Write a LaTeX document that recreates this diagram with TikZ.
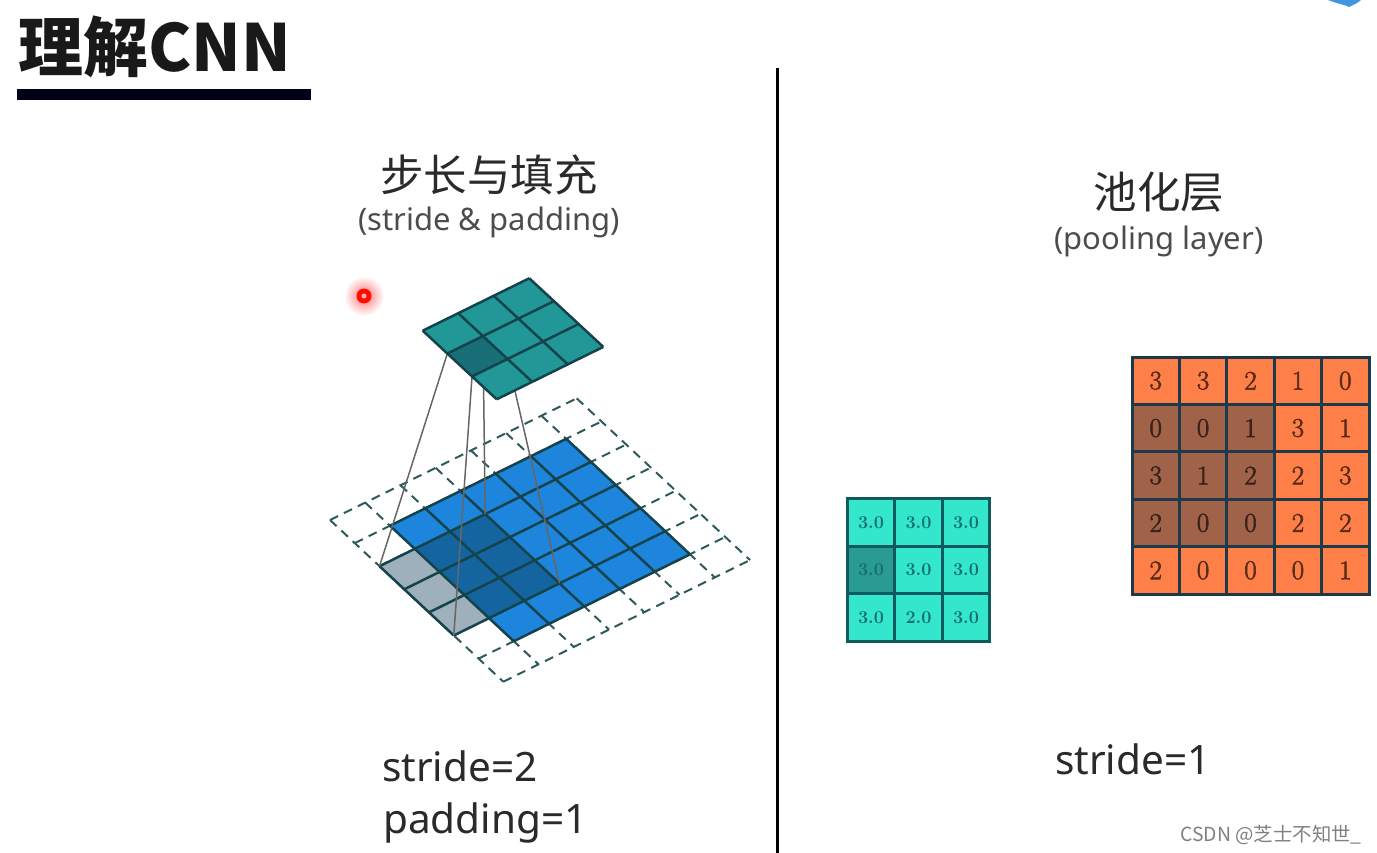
\documentclass[tikz,border=0pt]{standalone}
\usepackage{fontspec}
\newfontfamily\cjk{Noto Sans CJK SC}
\newfontfamily\lat{Noto Sans}
\newfontfamily\digit{Latin Modern Roman}[FakeBold=2.2]
\definecolor{gridline}{HTML}{14434C}
\definecolor{dashline}{HTML}{2F5A5C}
\definecolor{bluecell}{HTML}{1E85DC}
\definecolor{bluedark}{HTML}{14659F}
\definecolor{graycell}{HTML}{9FB0BD}
\definecolor{tealcell}{HTML}{219797}
\definecolor{tealdark}{HTML}{186F78}
\definecolor{orlt}{HTML}{FF7F48}
\definecolor{ordk}{HTML}{A0634A}
\definecolor{cylt}{HTML}{33E6CC}
\definecolor{cydk}{HTML}{2A9B92}
\definecolor{oline}{HTML}{1C3A4A}
\definecolor{cline}{HTML}{0F5A5C}
\definecolor{inktext}{HTML}{2A2A2A}
\tikzset{
  dashgrid/.style={draw=dashline,line width=2pt,dash pattern=on 9pt off 6.5pt},
  cellgrid/.style={draw=gridline,line width=2.5pt,line join=round},
  wire/.style={draw=black!60,line width=1.5pt},
  heading/.style={inner sep=0pt,font=\cjk\fontsize{43.5}{43.5}\selectfont,text=inktext},
  subheading/.style={inner sep=0pt,font=\lat\fontsize{31}{31}\selectfont,text=black!70},
  param/.style={inner sep=0pt,anchor=base west,font=\lat\fontsize{40.5}{40.5}\selectfont,text=inktext},
  ocell/.style={draw=oline,line width=3pt,minimum size=47.4pt,inner sep=0pt,font=\digit\fontsize{27}{27}\selectfont},
  ccell/.style={draw=cline,line width=3pt,minimum size=47.5pt,inner sep=0pt,font=\bfseries\fontsize{18}{18}\selectfont},
}
\begin{document}
\begin{tikzpicture}[x=1pt,y=-1pt]
\useasboundingbox (0,0) rectangle (1377,853);
% title
\node[inner sep=0pt,anchor=base west,font=\cjk\bfseries\fontsize{65}{65}\selectfont,text=black!90] (title) at (18,72) {理解CNN};
\fill[fill=black!90!blue] (17,89) rectangle (311,100);
\draw[line width=3pt,black] (777,68) -- (777,853);
% top-right fragment
\fill[bluecell!85] (1328,0) .. controls (1338,4) and (1346,5) .. (1349,7) .. controls (1353,5) and (1358,3) .. (1361,0) -- cycle;
% headings
\node[heading] (h1) at (489,175) {步长与填充};
\node[subheading] (s1) at (489,222) {(stride \& padding)};
\node[heading] (h2) at (1159,192) {池化层};
\node[subheading] (s2) at (1159,241) {(pooling layer)};
\node[param] (p1) at (382,781) {stride=2};
\node[param] (p2) at (383,833) {padding=1};
\node[param] (p3) at (1055,774) {stride=1};
\node[inner sep=0pt,anchor=base east,font=\cjk\fontsize{19.4}{19.4}\selectfont,text=black!50] (wm) at (1362,841) {CSDN @芝士不知世\_};
% pointer
\shade[inner color=red!55,outer color=white] (364,296) circle (20);
\fill[red!90!orange] (364,296) circle (7.5);
\fill[white!70!red] (364,296) circle (2.5);
% coordinates
\foreach \u in {0,...,7}\foreach \v in {0,...,7}
  \coordinate (d-\u-\v) at ({330+35.24*\u+24.76*\v},{520-17.38*\u+23.1*\v});
\foreach \u in {0,...,3}\foreach \v in {0,...,3}
  \coordinate (t-\u-\v) at ({422.7+35.53*\u+24.67*\v},{330.7-17.47*\u+22.87*\v});
% dashed grid
\foreach \k in {0,...,7}{
  \draw[dashgrid] (d-\k-0) -- (d-\k-7);
  \draw[dashgrid] (d-0-\k) -- (d-7-\k);
}
% gray cells
\fill[graycell] (d-0-2) -- (d-1-2) -- (d-1-5) -- (d-0-5) -- cycle;
\foreach \v in {2,...,5} \draw[cellgrid] (d-0-\v) -- (d-1-\v);
\draw[cellgrid] (d-0-2) -- (d-0-5);
% blue plane
\fill[bluecell] (d-1-1) -- (d-6-1) -- (d-6-6) -- (d-1-6) -- cycle;
\fill[bluedark] (d-1-2) -- (d-3-2) -- (d-3-5) -- (d-1-5) -- cycle;
\foreach \k in {1,...,6}{
  \draw[cellgrid] (d-\k-1) -- (d-\k-6);
  \draw[cellgrid] (d-1-\k) -- (d-6-\k);
}
% connectors
\draw[wire] (t-0-1) -- (d-0-2);
\draw[wire] (t-0-2) -- (d-0-5);
\draw[wire] (t-1-1) -- (d-3-2);
\draw[wire] (t-1-2) -- (d-3-5);
% teal plane
\fill[tealcell] (t-0-0) -- (t-3-0) -- (t-3-3) -- (t-0-3) -- cycle;
\fill[tealdark] (t-0-1) -- (t-1-1) -- (t-1-2) -- (t-0-2) -- cycle;
\foreach \k in {0,...,3}{
  \draw[cellgrid] (t-\k-0) -- (t-\k-3);
  \draw[cellgrid] (t-0-\k) -- (t-3-\k);
}
% orange table
\foreach \row [count=\ry from 0] in {{3,3,2,1,0},{0,0,1,3,1},{3,1,2,2,3},{2,0,0,2,2},{2,0,0,0,1}}{
  \foreach \val [count=\cx from 0] in \row {
    \pgfmathtruncatemacro\dk{(\ry>=1)&&(\ry<=3)&&(\cx<=2)}
    \ifnum\dk=1 \def\cc{ordk}\def\tc{black!65!ordk}\else \def\cc{orlt}\def\tc{black!65!orlt}\fi
    \node[ocell,fill=\cc,text=\tc] (o-\ry-\cx) at ({1155.7+47.4*\cx},{380.7+47.4*\ry}) {\val};
  }
}
% cyan table
\foreach \row [count=\ry from 0] in {{3.0,3.0,3.0},{3.0,3.0,3.0},{3.0,2.0,3.0}}{
  \foreach \val [count=\cx from 0] in \row {
    \pgfmathtruncatemacro\dk{(\ry==1)&&(\cx==0)}
    \ifnum\dk=1 \def\cc{cydk}\else \def\cc{cylt}\fi
    \node[ccell,fill=\cc,text=cline!85!cylt] (c-\ry-\cx) at ({871+47.5*\cx},{522.7+47.5*\ry}) {\val};
  }
}
\end{tikzpicture}
\end{document}
